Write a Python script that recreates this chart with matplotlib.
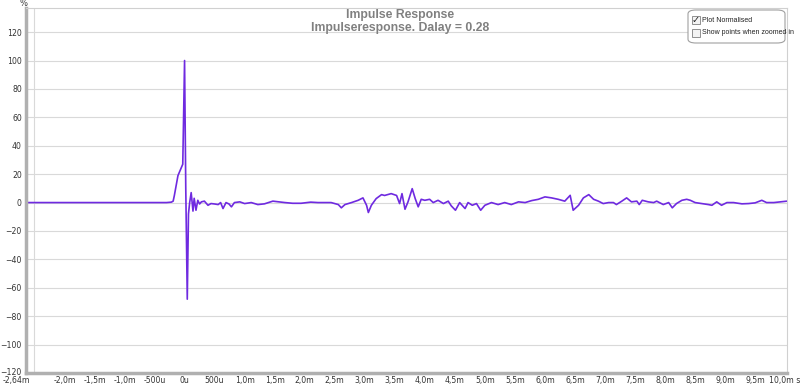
import numpy as np
import matplotlib.pyplot as plt
from matplotlib.patches import FancyBboxPatch, Rectangle
from matplotlib.transforms import ScaledTranslation

# impulse response, time in ms, value in %
t_ms = [-2.64, -0.30, -0.22, -0.19, -0.17, -0.14, -0.11, -0.08, -0.05, -0.03,
        0.0, 0.02, 0.045, 0.065, 0.085, 0.11, 0.14, 0.16, 0.19, 0.22,
        0.25, 0.28, 0.33, 0.39, 0.44, 0.50, 0.56, 0.60, 0.64, 0.69,
        0.74, 0.78, 0.83, 0.92, 1.00, 1.11, 1.22, 1.33, 1.47, 1.67,
        1.80, 1.94, 2.10, 2.22, 2.44, 2.56, 2.61, 2.67, 2.78, 2.89,
        2.97, 3.03, 3.06, 3.11, 3.19, 3.28, 3.33, 3.44, 3.53, 3.58,
        3.62, 3.67, 3.72, 3.79, 3.84, 3.89, 3.94, 4.00, 4.08, 4.14,
        4.22, 4.31, 4.39, 4.44, 4.51, 4.58, 4.67, 4.72, 4.79, 4.86,
        4.93, 5.00, 5.11, 5.22, 5.33, 5.44, 5.56, 5.67, 5.78, 5.89,
        6.00, 6.11, 6.22, 6.33, 6.42, 6.47, 6.56, 6.64, 6.73, 6.81,
        6.89, 6.97, 7.06, 7.14, 7.19, 7.28, 7.36, 7.44, 7.53, 7.57,
        7.62, 7.72, 7.81, 7.86, 7.97, 8.06, 8.12, 8.19, 8.28, 8.36,
        8.42, 8.50, 8.61, 8.72, 8.78, 8.86, 8.94, 9.03, 9.14, 9.28,
        9.39, 9.50, 9.61, 9.69, 9.81, 9.92, 10.03]
value = [0, 0, 0.3, 1, 5, 12, 19, 22, 25, 27,
         100, 10, -68, -8, 0, 7, -6, 3, -5.4, 1.6,
         -1, 0.5, 1, -1.9, -0.7, -1, -1.4, 0, -4.2, 0,
         -1, -3, 0, 0.5, -0.7, 0, -1.4, -0.9, 1, 0,
         -0.5, -0.5, 0.3, 0, 0, -1.4, -3.7, -1.4, 0, 1.6,
         3.3, -1.9, -7, -1.9, 2.8, 5.6, 5, 6.3, 5, -0.7,
         6.3, -4.7, 0.5, 9.8, 2.8, -3, 2.3, 1.6, 2.3, 0,
         1.6, -0.7, 1, -2.3, -5.4, 0, -4.2, 0, -1.9, -0.7,
         -5.4, -1.9, 0, -1.4, 0, -1.4, 0.5, 0, 1.4, 2.3,
         4, 3.3, 2.3, 1, 5.1, -5.4, -1.9, 3.3, 5.6, 2.3,
         1, -0.7, 0, 0, -1.4, 1, 3.3, 0.5, 1, -1.4,
         1.6, 0.5, 0, 1, -1.4, 0, -3.7, -0.7, 1.6, 2.3,
         1.6, 0, -0.7, -1.4, -1.9, 0.5, -1.9, 0, 0, -0.9,
         -0.7, -0.2, 1.6, 0, 0, 0.5, 1]

x_ticks = [-2.64, -2.0, -1.5, -1.0, -0.5, 0.0, 0.5, 1.0, 1.5, 2.0, 2.5, 3.0,
           3.5, 4.0, 4.5, 5.0, 5.5, 6.0, 6.5, 7.0, 7.5, 8.0, 8.5, 9.0, 9.5, 10.0]
x_labels = ['-2,64m', '-2,0m', '-1,5m', '-1,0m', '-500u', '0u', '500u', '1,0m',
            '1,5m', '2,0m', '2,5m', '3,0m', '3,5m', '4,0m', '4,5m', '5,0m',
            '5,5m', '6,0m', '6,5m', '7,0m', '7,5m', '8,0m', '8,5m', '9,0m',
            '9,5m', '10,0m s']
y_ticks = list(range(-120, 121, 20))

fig = plt.figure(figsize=(8, 3.85), dpi=100)
ax = fig.add_axes([26 / 800, 12 / 385, 761 / 800, 365 / 385])

ax.plot(t_ms, value, color='#6f2ae0', lw=1.2)

ax.set_xlim(-2.64, 10.03)
ax.set_ylim(-120, 137)
ax.set_xticks(x_ticks)
ax.set_xticklabels(x_labels)
ax.set_xticks(np.arange(-2.5, 10.01, 0.5), minor=True)
ax.set_yticks(y_ticks)
ax.tick_params(labelsize=5.6, colors='#333333', length=0)
ax.tick_params(axis='x', pad=2.5)
ax.tick_params(axis='y', pad=3)
ax.tick_params(which='minor', length=0)
ax.grid(True, which='minor', axis='x', color='#d9d9d9', lw=0.8)
ax.grid(True, which='major', axis='y', color='#d9d9d9', lw=0.8)
ax.set_axisbelow(True)
for side in ['top', 'right']:
    ax.spines[side].set_color('#d0d0d0')
    ax.spines[side].set_linewidth(0.8)
for side in ['left', 'bottom']:
    ax.spines[side].set_color('#b0b0b0')
    ax.spines[side].set_linewidth(2.5)

# -120 label sits a bit higher, first/last x labels pushed inwards
yl = ax.get_yticklabels()
yl[0].set_transform(yl[0].get_transform() + ScaledTranslation(0, 1.5 / 100, fig.dpi_scale_trans))
xl = ax.get_xticklabels()
xl[0].set_transform(xl[0].get_transform() + ScaledTranslation(-10 / 100, 0, fig.dpi_scale_trans))
xl[-1].set_transform(xl[-1].get_transform() + ScaledTranslation(-1 / 100, 0, fig.dpi_scale_trans))

fig.text(20 / 800, 1 - 4 / 385, '%', fontsize=6, color='#333333', va='center')
fig.text(400 / 800, 1 - 15 / 385, 'Impulse Response', fontsize=8.8, color='#808080',
         ha='center', va='center', fontweight='bold', family='Liberation Sans')
fig.text(400 / 800, 1 - 27.5 / 385, 'Impulseresponse. Dalay = 0.28', fontsize=8.8,
         color='#808080', ha='center', va='center', fontweight='bold',
         family='Liberation Sans')

# option box top right
box = FancyBboxPatch((688 / 800, 1 - 43 / 385), 97 / 800, 33 / 385,
                     boxstyle='round,pad=0,rounding_size=0.01', transform=fig.transFigure,
                     facecolor='white', edgecolor='#a0a0a0', lw=0.8)
fig.patches.append(box)
for i, (lbl, on) in enumerate([('Plot Normalised', True),
                               ('Show points when zoomed in', False)]):
    yc = 1 - (20 + 13 * i) / 385
    fig.patches.append(Rectangle((692 / 800, yc - 4 / 385), 8 / 800, 8 / 385,
                                 transform=fig.transFigure, facecolor='#f4f4f4',
                                 edgecolor='#808080', lw=0.6))
    if on:
        fig.text(696 / 800, yc, '\u2713', fontsize=7, color='#222222',
                 ha='center', va='center')
    fig.text(702 / 800, yc, lbl, fontsize=5, color='#222222', va='center',
             family='Liberation Sans')

fig.savefig('out.png', dpi=100)
